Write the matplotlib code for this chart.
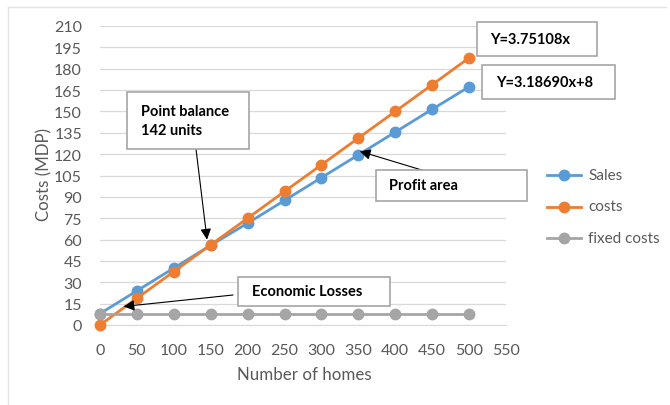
import numpy as np
import matplotlib.pyplot as plt
from matplotlib.patches import Rectangle
from matplotlib.lines import Line2D

plt.rcParams['font.family'] = ['Lato', 'DejaVu Sans']

homes = [0, 50, 100, 150, 200, 250, 300, 350, 400, 450, 500]
sales = [8, 24, 40, 56, 71.5, 87.5, 103.5, 119.5, 135.5, 151.5, 167.3]
costs = [0, 18.8, 37.5, 56.3, 75, 93.8, 112.5, 131.3, 150, 168.8, 187.6]
fixed_costs = [8, 8, 8, 8, 8, 8, 8, 8, 8, 8, 8]

series_names = ["Sales", "costs", "fixed costs"]
colors = ["#5B9BD5", "#ED7D31", "#A5A5A5"]

W, H = 670, 406
fig = plt.figure(figsize=(W / 100, H / 100), dpi=100)
ax = fig.add_axes([100 / W, 1 - 326 / H, 406 / W, 299 / H])

for vals, col in zip([sales, costs, fixed_costs], colors):
    ax.plot(homes, vals, '-o', color=col, lw=2.0, markersize=7.5,
            clip_on=False, zorder=3)

ax.set_xlim(0, 550)
ax.set_ylim(0, 210)
ax.set_xticks(np.arange(0, 551, 50))
ax.set_yticks(np.arange(0, 211, 15))
ax.grid(axis='y', color='#D9D9D9', lw=0.9)
ax.set_axisbelow(True)
for s in ['left', 'right', 'top']:
    ax.spines[s].set_visible(False)
ax.spines['bottom'].set_color('#D9D9D9')
ax.tick_params(length=0, labelcolor='#595959', labelsize=11.5)
ax.tick_params(axis='x', pad=13)
ax.tick_params(axis='y', pad=13)

fig.text(44 / W, 1 - 175 / H, "Costs (MDP)", rotation=90, ha='center',
         va='center', fontsize=12.2, color='#595959')
fig.text(304 / W, 1 - 375 / H, "Number of homes", ha='center', va='center',
         fontsize=12.2, color='#595959')

# outer chart frame (top and left edges only)
fig.add_artist(Line2D([8 / W, 666 / W], [1 - 8 / H, 1 - 8 / H],
                      color='#E4E4E4', lw=1))
fig.add_artist(Line2D([8 / W, 8 / W], [0, 1 - 8 / H], color='#E4E4E4', lw=1))

# legend
for i, (name, col) in enumerate(zip(series_names, colors)):
    y = 1 - (176 + 31.5 * i) / H
    fig.add_artist(Line2D([547 / W, 581 / W], [y, y], color=col, lw=2.0))
    fig.add_artist(Line2D([564 / W], [y], color=col, marker='o',
                          markersize=7.5))
    fig.text(588 / W, y, name, va='center', fontsize=11, color='#595959')


def label_box(x0, y0, x1, y1, text, tx):
    fig.add_artist(Rectangle((x0 / W, 1 - y1 / H), (x1 - x0) / W,
                             (y1 - y0) / H, transform=fig.transFigure,
                             facecolor='white', edgecolor='#A6A6A6',
                             lw=1.2, zorder=5))
    t = fig.text(tx / W, 1 - (y0 + y1) / 2 / H, text, va='center', ha='left',
                 fontsize=10.5, fontweight='bold', color='black',
                 linespacing=1.5)
    t.set_zorder(6)


def pointer(start, xy):
    ax.annotate("", xy=xy, xycoords='data',
                xytext=(start[0], H - start[1]), textcoords='figure pixels',
                arrowprops=dict(arrowstyle='-|>', color='black', lw=0.8,
                                mutation_scale=16, shrinkA=0, shrinkB=0),
                annotation_clip=False, zorder=7)


label_box(127, 93, 249, 150, "Point balance\n142 units", 141)
label_box(477, 23, 597, 57, "Y=3.75108x", 490)
label_box(482, 66, 615, 100, "Y=3.18690x+8", 496)
label_box(376, 171, 527, 202, "Profit area", 389)
label_box(238, 278, 390, 307, "Economic Losses", 252)

pointer((196, 150), (145, 60))
pointer((425, 172), (352, 122))
pointer((233, 296), (32, 13))

fig.savefig("out.png", dpi=100)
